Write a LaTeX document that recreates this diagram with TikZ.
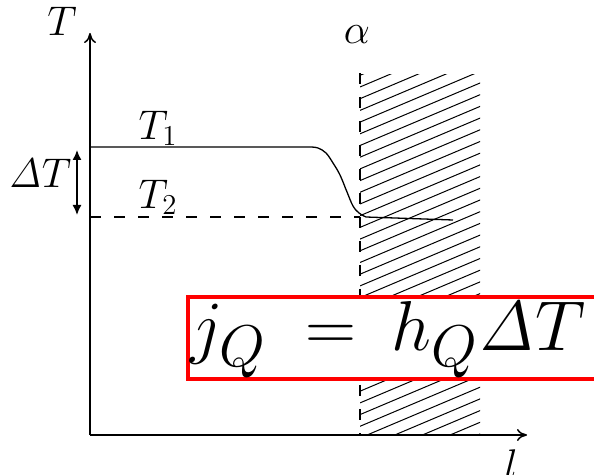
\documentclass[tikz,border=0pt]{standalone}
\usepackage{graphicx}
\usetikzlibrary{arrows.meta}
\begin{document}
\begin{tikzpicture}[x=0.5pt,y=-0.5pt,
  lbl/.style={font=\fontsize{20}{24}\selectfont, inner sep=0pt},
  axis/.style={line width=0.75pt},
  dsh/.style={line width=0.6pt, dash pattern=on 5.5pt off 6.5pt},
  hatch/.style={line width=0.5pt},
  curve/.style={line width=0.65pt}]
\clip (0,0) rectangle (594,475);
\fill[white] (0,0) rectangle (594,475);
% hatching
\begin{scope}
  \clip (360,75) rectangle (480,435);
  \foreach \k in {-12,...,34} {
    \draw[hatch] (360,87+11.7*\k) -- ++(130,-55);
  }
\end{scope}
% axes
\coordinate (O) at (90,435);
\coordinate (Ttip) at (90,33);
\coordinate (Ltip) at (527,435);
\draw[axis,-{To[length=5pt,width=6pt]}] (O) -- (Ttip);
\draw[axis,-{To[length=5pt,width=6pt]}] (O) -- (Ltip);
% boundary dashed
\coordinate (b1) at (360,73);
\coordinate (b2) at (360,435);
\draw[dsh] (b1) -- (b2);
% T2 dashed
\coordinate (t2a) at (90,217);
\coordinate (t2b) at (360,217);
\draw[dsh] (t2a) -- (t2b);
% T1 curve
\coordinate (c0) at (90,147);
\coordinate (c1) at (310,147);
\coordinate (c3) at (453,220);
\draw[curve] (c0) -- (c1)
  plot[smooth, tension=0.6] coordinates {(310,147) (318,148) (326,153) (333,163) (340,175) (347,192) (353,206) (359,213) (366,217)}
  -- (c3);
% Delta T arrow
\coordinate (d1) at (77,150);
\coordinate (d2) at (77,215);
\draw[line width=0.75pt,{Latex[length=5pt,width=4.5pt]}-{Latex[length=5pt,width=4.5pt]}] (d1) -- (d2);
% labels
\node[lbl] (TL) at (62,21) {$T$};
\node[lbl] (AL) at (357,35) {$\alpha$};
\node[lbl,anchor=base] (LL) at (511,478) {$l$};
\node[lbl] (T1L) at (158,128) {$T_1$};
\node[lbl] (T2L) at (158,197) {$T_2$};
\node[lbl] (DTL) at (40,173) {$\mathit{\Delta} T$};
% red box
\draw[red, line width=2pt, fill=white] (188,297) rectangle (650,379);
\node[font=\fontsize{24.88}{30}\selectfont, inner sep=0pt, anchor=base west] (F) at (190,351) {\scalebox{1.42}{$j_Q\mkern5mu=\mkern4mu h_Q\mathit{\Delta} T$}};
\end{tikzpicture}
\end{document}
